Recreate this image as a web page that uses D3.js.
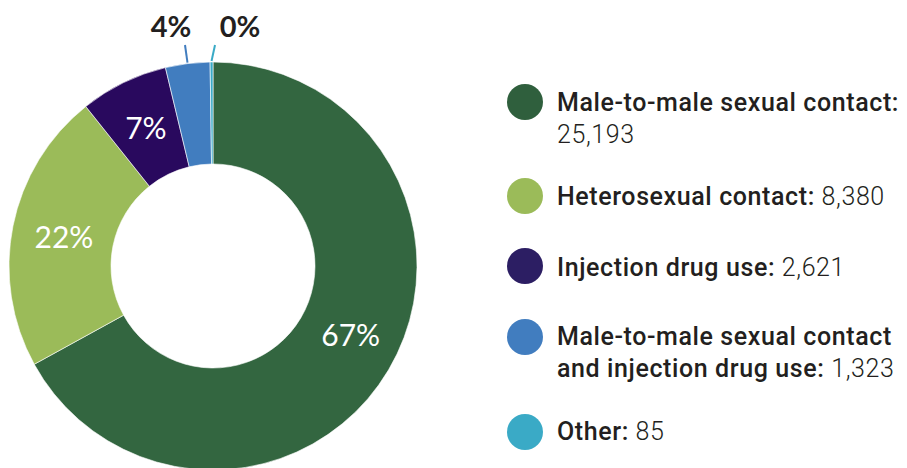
<!DOCTYPE html>
<html><head><meta charset="utf-8">
<script src="https://cdn.jsdelivr.net/npm/d3@7"></script>
<style>
html,body{margin:0;padding:0;background:#fff;}
svg{display:block;}
</style></head>
<body>
<svg id="c" width="907" height="468"></svg>
<script>
const categories = ["Male-to-male sexual contact", "Heterosexual contact", "Injection drug use", "Male-to-male sexual contact and injection drug use", "Other"];
const values = [25193, 8380, 2621, 1323, 85];
const percentLabels = ["67%", "22%", "7%", "4%", "0%"];
const legendLines = [
  [["Male-to-male sexual contact:", ""], ["", "25,193"]],
  [["Heterosexual contact:", " 8,380"]],
  [["Injection drug use:", " 2,621"]],
  [["Male-to-male sexual contact", ""], ["and injection drug use:", " 1,323"]],
  [["Other:", " 85"]]
];
const colors = ["#336640", "#9bbb59", "#29095e", "#417dbf", "#3aaac6"];
const legendColors = ["#2f5f3d", "#9bbb59", "#2c1e63", "#417dbf", "#3aaac6"];

const svg = d3.select("#c");
const cx = 213, cy = 266, R = 204, r0 = 102;
const pie = d3.pie().sort(null).value(d => d);
const arcs = pie(values);
const arc = d3.arc().innerRadius(r0).outerRadius(R);
const g = svg.append("g").attr("transform", `translate(${cx},${cy})`);
g.selectAll("path").data(arcs).join("path")
  .attr("d", arc).attr("fill", (d, i) => colors[i])
  .attr("stroke", "#fff").attr("stroke-width", 0.6);

// inside labels for big slices
const labelArc = d3.arc().innerRadius(153).outerRadius(153);
const nudge = [[6, -9], [1, 1], [0, 0]];
[0, 1, 2].forEach(i => {
  const [x, y] = labelArc.centroid(arcs[i]);
  g.append("text").attr("x", x + nudge[i][0]).attr("y", y + nudge[i][1]).attr("dy", "0.36em")
    .attr("text-anchor", "middle")
    .style("font-family", "Lato, 'Open Sans', sans-serif")
    .style("font-size", "30px").style("fill", "#fff")
    .text(percentLabels[i]);
});

// outside labels with leader lines for small slices
const outside = [{i: 3, tx: -42, lx: -28}, {i: 4, tx: 27, lx: 2}];
outside.forEach(o => {
  const d = arcs[o.i];
  const a = (d.startAngle + d.endAngle) / 2;
  const x1 = Math.sin(a) * (R + 1), y1 = -Math.cos(a) * (R + 1);
  const x2 = o.lx, y2 = -R - 17;
  g.append("line").attr("x1", x1).attr("y1", y1).attr("x2", x2).attr("y2", y2)
    .attr("stroke", colors[o.i]).attr("stroke-width", 2);
  g.append("text").attr("x", o.tx).attr("y", -R - 25)
    .attr("text-anchor", "middle")
    .style("font-family", "Lato, 'Open Sans', sans-serif")
    .style("font-weight", "700")
    .style("font-size", "29px").style("fill", "#231f20")
    .text(percentLabels[o.i]);
});

// legend
const circleY = [102, 196, 266, 337, 432];
const baseY = [111, 205, 276, 345, 440];
const leg = svg.append("g");
categories.forEach((c, i) => {
  leg.append("circle").attr("cx", 525).attr("cy", circleY[i]).attr("r", 18).attr("fill", legendColors[i]);
  legendLines[i].forEach((ln, j) => {
    const t = leg.append("text").attr("x", 557).attr("y", baseY[i] + j * 32)
      .style("font-family", "Roboto, sans-serif").style("font-size", "25px")
      .style("letter-spacing", "0.6px").style("fill", "#231f20");
    if (ln[0]) t.append("tspan").style("font-weight", "500").text(ln[0]);
    if (ln[1]) t.append("tspan").style("font-weight", "300").text(ln[1]);
  });
});
</script>
</body></html>
